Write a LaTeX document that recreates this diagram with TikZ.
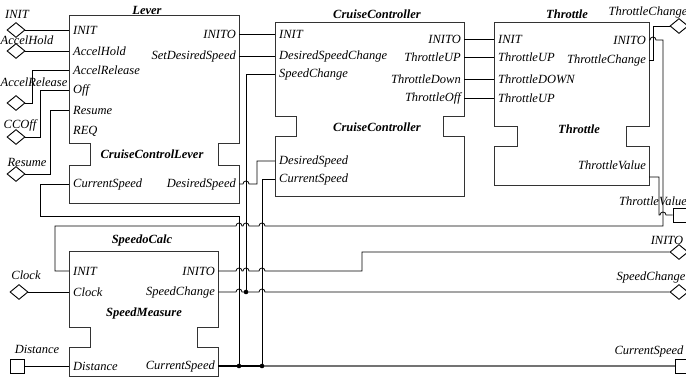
\documentclass[tikz,border=0pt]{standalone}
\usepackage{fontspec}
\setmainfont{Liberation Serif}
\usetikzlibrary{positioning, shapes.geometric, calc}

\tikzset{
  blk/.style={draw=black!80, line width=1pt},
  wire/.style={draw=black, line width=0.8pt},
  bus/.style={draw=black, line width=1.8pt},
  inport/.style={anchor=west, inner xsep=4pt, inner ysep=1pt, font=\itshape},
  outport/.style={anchor=east, inner xsep=3pt, inner ysep=1pt, font=\itshape},
  iopin/.style={diamond, draw, line width=0.9pt, fill=white, inner sep=0pt, minimum width=18pt, minimum height=15pt},
  iosq/.style={rectangle, draw, line width=0.9pt, fill=white, inner sep=0pt, minimum size=14pt},
  pinlbl/.style={font=\itshape, inner sep=0pt},
  blkname/.style={font=\bfseries\itshape, inner sep=0pt},
}
\newcommand{\fbblock}[7]{%
  \draw[blk] (#1,#2) -- (#3,#2) -- (#3,#5) -- ({#3-#7},#5) -- ({#3-#7},#6) -- (#3,#6) -- (#3,#4)
    -- (#1,#4) -- (#1,#6) -- ({#1+#7},#6) -- ({#1+#7},#5) -- (#1,#5) -- cycle;}
\newcommand{\hopR}{arc[start angle=180, end angle=360, radius=3]}
\newcommand{\hopL}{arc[start angle=0, end angle=-180, radius=3]}

\begin{document}
\begin{tikzpicture}[x=1pt, y=-1pt, node font=\fontsize{12.5}{15}\selectfont]
\useasboundingbox (0,0) rectangle (686,377);

\fbblock{69}{16}{239}{204}{144}{166}{21}
\fbblock{275}{23}{464}{197}{117}{137}{21}
\fbblock{494}{23}{649}{186}{127}{147}{23}
\fbblock{69}{251}{218}{376}{327}{347}{21}

\node[blkname] (lvTitle) at (147,10) {Lever};
\node[blkname] (lvName) at (152,154) {CruiseControlLever};
\node[blkname] (ccTitle) at (377,14) {CruiseController};
\node[blkname] (ccName) at (377,127) {CruiseController};
\node[blkname] (thTitle) at (567,14) {Throttle};
\node[blkname] (thName) at (579,129) {Throttle};
\node[blkname] (smTitle) at (142,240) {SpeedoCalc};
\node[blkname] (smName) at (144,313) {SpeedMeasure};

\node[inport] (lvINIT) at (69,30) {INIT};
\node[inport] (lvAccelHold) at (69,51) {AccelHold};
\node[inport] (lvAccelRel) at (69,70) {AccelRelease};
\node[inport] (lvOff) at (69,90) {Off};
\node[inport] (lvResume) at (69,110) {Resume};
\node[inport] (lvREQ) at (69,131) {REQ};
\node[inport] (lvCS) at (69,184) {CurrentSpeed};
\node[outport] (lvINITO) at (239,34) {INITO};
\node[outport] (lvSDS) at (239,56) {SetDesiredSpeed};
\node[outport] (lvDS) at (239,184) {DesiredSpeed};

\node[inport] (ccINIT) at (275,34) {INIT};
\node[inport] (ccDSC) at (275,56) {DesiredSpeedChange};
\node[inport] (ccSC) at (275,74) {SpeedChange};
\node[inport] (ccDS) at (275,161) {DesiredSpeed};
\node[inport] (ccCS) at (275,179) {CurrentSpeed};
\node[outport] (ccINITO) at (464,39) {INITO};
\node[outport] (ccUP) at (464,57) {ThrottleUP};
\node[outport] (ccDown) at (464,79) {ThrottleDown};
\node[outport] (ccOff) at (464,98) {ThrottleOff};

\node[inport] (thINIT) at (494,39) {INIT};
\node[inport] (thUP) at (494,57) {ThrottleUP};
\node[inport] (thDOWN) at (494,79) {ThrottleDOWN};
\node[inport] (thUPb) at (494,98) {ThrottleUP};
\node[outport] (thINITO) at (649,40) {INITO};
\node[outport] (thTC) at (649,60) {ThrottleChange};
\node[outport] (thTV) at (649,165) {ThrottleValue};

\node[inport] (smINIT) at (69,271) {INIT};
\node[inport] (smClock) at (69,292) {Clock};
\node[inport] (smDist) at (69,366) {Distance};
\node[outport] (smINITO) at (218,271) {INITO};
\node[outport] (smSC) at (218,292) {SpeedChange};
\node[outport] (smCS) at (218,366) {CurrentSpeed};

\node[iopin] (pINIT) at (16,30) {};
\node[pinlbl] (pINITl) at (17,14) {INIT};
\node[iopin] (pAccelHold) at (16,51) {};
\node[pinlbl] (pAccelHoldl) at (27,40) {AccelHold};
\node[iopin] (pAccelRel) at (16,103) {};
\node[pinlbl] (pAccelRell) at (34,82) {AccelRelease};
\node[iopin] (pCCOff) at (16,137) {};
\node[pinlbl] (pCCOffl) at (20,125) {CCOff};
\node[iopin] (pResume) at (16,174) {};
\node[pinlbl] (pResumel) at (27,162) {Resume};
\node[iopin] (pClock) at (19,292) {};
\node[pinlbl] (pClockl) at (26,275) {Clock};
\node[iosq] (pDist) at (17,366) {};
\node[pinlbl] (pDistl) at (37,349) {Distance};

\node[iopin] (pTC) at (679,26) {};
\node[pinlbl] (pTCl) at (648,12) {ThrottleChange};
\node[iosq] (pTV) at (680,215) {};
\node[pinlbl] (pTVl) at (653,201) {ThrottleValue};
\node[iopin] (pINITO) at (679,252) {};
\node[pinlbl] (pINITOl) at (667,240) {INITO};
\node[iopin] (pSC) at (679,292) {};
\node[pinlbl] (pSCl) at (651,277) {SpeedChange};
\node[iosq] (pCS) at (682,366) {};
\node[pinlbl] (pCSl) at (649,351) {CurrentSpeed};

\coordinate (dA) at (239,366);
\coordinate (dB) at (262,366);
\coordinate (dC) at (246,292);

\draw[wire] (pINIT.east) -- (lvINIT.west);
\draw[wire] (pAccelHold.east) -- (lvAccelHold.west);
\draw[wire] (pAccelRel.east) -- ++(7,0) |- (lvAccelRel.west);
\draw[wire] (pCCOff.east) -- ++(15,0) |- (lvOff.west);
\draw[wire] (pResume.east) -- ++(25,0) |- (lvResume.west);
\draw[wire] (pClock.east) -- (smClock.west);
\draw[wire] (pDist.east) -- (smDist.west);

\draw[wire] (lvINITO.east) -- (ccINIT.west);
\draw[wire] (lvSDS.east) -- (ccDSC.west);
\draw[wire] (ccINITO.east) -- (thINIT.west);
\draw[wire] (ccUP.east) -- (thUP.west);
\draw[wire] (ccDown.east) -- (thDOWN.west);
\draw[wire] (ccOff.east) -- (thUPb.west);

\draw[wire] (lvCS.west) -- ++(-29,0) -- ++(0,32) -| (dA);
\draw[wire] (ccSC.west) -| (dC);
\draw[wire] (ccCS.west) -| (dB);
\draw[wire] (lvDS.east) -- ++(4,0) \hopR -- ++(8,0) |- (ccDS.west);

\draw[wire] (thTC.east) -- ++(4,0) |- (pTC.west);
\draw[wire] (thINITO.east) -- ++(1,0) \hopR -- ++(7,0) -- ++(0,186) -- ++(-398,0) \hopL
  -- ++(-10,0) \hopL -- ++(-1,0) \hopL -- ++(-181,0) |- (smINIT.west);
\draw[wire] ([yshift=-12pt]thTV.east) -- ++(10,0) -- ++(0,38) -- ++(1,0) \hopR -- (pTV.west);

\draw[wire] (smINITO.east) -- ++(18,0) \hopR -- ++(1,0) \hopR -- ++(10,0) \hopR -- ++(97,0) |- (pINITO.west);
\draw[wire] (smSC.east) -- ++(18,0) \hopR -- (dC) -- ++(13,0) \hopR -- (pSC.west);
\draw[bus] (smCS.east) -- (dA) -- (dB);
\draw[bus, draw=black!55] (dB) -- (pCS.west);

\fill (dA) circle (2.3);
\fill (dB) circle (2.3);
\fill (dC) circle (2.3);
\end{tikzpicture}
\end{document}
